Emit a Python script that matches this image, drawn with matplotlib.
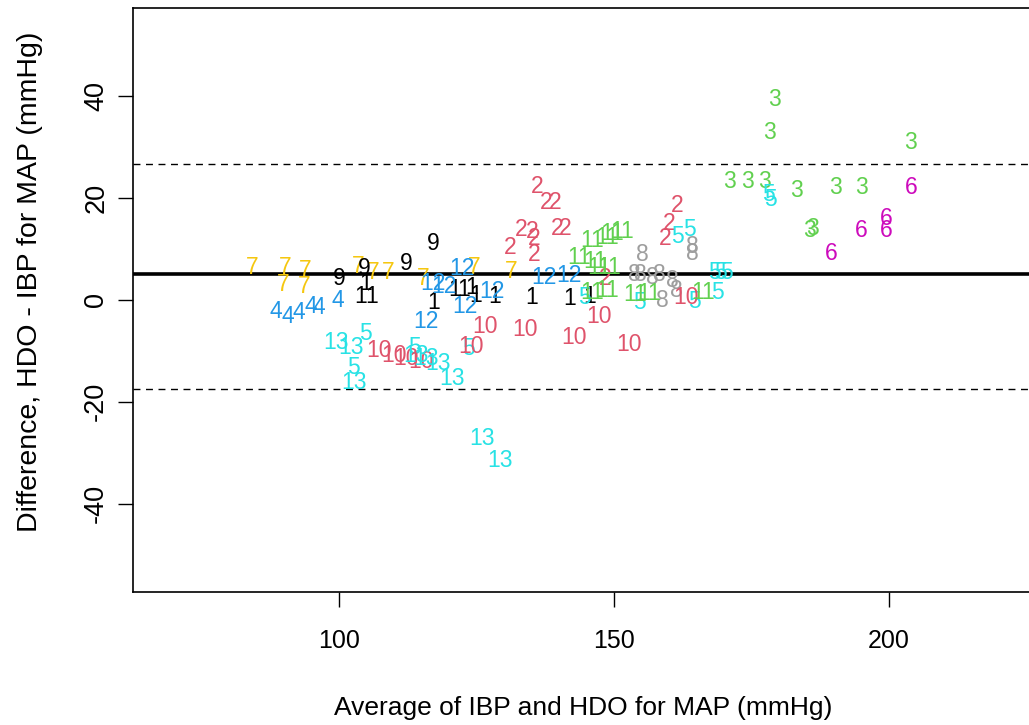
import matplotlib
matplotlib.use("agg")
from matplotlib import pyplot as plt

# R default palette (labels 9..13 wrap around)
palette = ["#000000", "#DF536B", "#61D04F", "#2297E6", "#28E2E5", "#CD0BBC", "#F5C710", "#9E9E9E"]

# average (x) and difference (y), grouped by subject label
x1 = [104.0, 105.9, 104.9, 117.2, 121.0, 122.7, 124.1, 124.9, 128.3, 135.1, 142.0, 145.7]
y1 = [0.6, 0.6, 3.1, -0.6, 2.0, 2.0, 2.5, 0.8, 0.6, 0.4, 0.2, 0.6]
x2 = [136.0, 137.8, 139.3, 133.1, 135.1, 135.6, 139.7, 141.1, 131.1, 135.6, 148.4, 161.6, 160.1, 159.4]
y2 = [22.2, 19.0, 19.0, 13.7, 13.3, 12.0, 13.9, 13.9, 10.2, 8.8, 4.1, 18.4, 14.9, 12.0]
x3 = [179.3, 178.4, 204.0, 171.1, 174.4, 177.5, 183.2, 190.3, 195.1, 185.7, 186.1]
y3 = [39.2, 32.7, 30.8, 23.1, 23.1, 23.1, 21.4, 22.0, 22.0, 13.5, 13.9]
x4 = [88.5, 90.7, 92.7, 94.9, 96.3, 99.8]
y4 = [-2.2, -3.3, -2.5, -1.4, -1.6, -0.2]
x5 = [178.1, 178.6, 168.4, 169.5, 170.6, 168.9, 161.6, 163.8, 154.7, 164.7, 144.6, 104.9, 102.7, 113.7, 123.6]
y5 = [20.6, 19.6, 5.3, 5.3, 5.3, 1.4, 12.4, 13.7, -0.6, -0.4, 0.4, -6.7, -13.3, -9.4, -9.6]
x6 = [204.2, 195.1, 199.5, 199.5, 189.6]
y6 = [22.0, 13.5, 15.9, 13.5, 9.0]
x7 = [84.3, 90.3, 89.8, 93.8, 93.6, 103.5, 106.2, 109.0, 115.4, 124.7, 131.4]
y7 = [6.3, 6.3, 2.9, 5.7, 2.7, 6.5, 5.3, 5.3, 4.1, 6.3, 5.5]
x8 = [155.2, 164.4, 164.4, 153.7, 154.8, 157.0, 158.3, 160.7, 161.4, 158.9]
y8 = [8.8, 10.4, 9.0, 4.9, 4.9, 4.3, 4.9, 3.7, 1.8, -0.2]
x9 = [100.0, 104.6, 112.2, 117.2]
y9 = [4.1, 6.1, 7.1, 11.0]
x10 = [126.5, 133.8, 142.8, 147.3, 152.8, 124.1, 163.1, 107.3, 110.1, 112.2, 115.0]
y10 = [-5.3, -5.9, -7.3, -3.3, -8.8, -9.2, 0.4, -10.0, -11.0, -11.6, -12.0]
x11 = [146.1, 148.8, 149.7, 151.6, 143.7, 146.6, 147.3, 149.2, 146.1, 148.8, 153.9, 156.5, 166.2]
y11 = [11.6, 12.2, 12.9, 13.3, 8.2, 7.6, 6.3, 6.3, 1.4, 1.8, 1.0, 1.2, 1.4]
x12 = [122.3, 117.2, 119.2, 122.9, 115.9, 127.8, 137.3, 141.9]
y12 = [6.1, 3.1, 2.7, -1.4, -4.3, 1.6, 4.3, 4.7]
x13 = [99.5, 102.2, 102.7, 114.1, 115.9, 118.1, 120.5, 126.0, 129.3]
y13 = [-8.4, -9.4, -16.3, -11.0, -11.6, -12.5, -15.5, -27.1, -31.6]

groups = [(x1, y1), (x2, y2), (x3, y3), (x4, y4), (x5, y5), (x6, y6), (x7, y7),
          (x8, y8), (x9, y9), (x10, y10), (x11, y11), (x12, y12), (x13, y13)]

mean_diff = 5.0
upper_loa = 26.7
lower_loa = -17.5

plt.rcParams["font.family"] = ["Liberation Sans", "DejaVu Sans"]
plt.rcParams["axes.unicode_minus"] = False

fig = plt.figure(figsize=(10.29, 7.25), dpi=100)
ax = fig.add_axes([0.129, 0.184, 0.875, 0.805])

for (i, (xs, ys)) in enumerate(groups):
    for (xv, yv) in zip(xs, ys):
        ax.text(xv, yv, str(i + 1), color=palette[i % 8], fontsize=16.5,
                ha="center", va="center")

ax.axhline(mean_diff, color="k", lw=2.6)
ax.axhline(upper_loa, color="k", lw=1, ls=(0, (5, 4)))
ax.axhline(lower_loa, color="k", lw=1, ls=(0, (5, 4)))

ax.set_xlim(62.5, 226.3)
ax.set_ylim(-57.2, 57.2)
ax.set_xticks([100, 150, 200])
ax.set_yticks([-40, -20, 0, 20, 40])
ax.tick_params(axis="both", direction="out", length=11, width=1)
ax.tick_params(axis="x", pad=16, labelsize=18)
ax.tick_params(axis="y", pad=6, labelsize=19.5)
for lab in ax.get_yticklabels():
    lab.set_rotation(90)
    lab.set_va("center")
ax.spines["right"].set_visible(False)
for s in ax.spines.values():
    s.set_linewidth(1.2)

ax.set_xlabel("Average of IBP and HDO for MAP (mmHg)", fontsize=19, labelpad=31)
ax.set_ylabel("Difference, HDO - IBP for MAP (mmHg)", fontsize=20.5)
ax.yaxis.set_label_coords(-0.1, 0.53)

fig.savefig("out.png", dpi=100)
